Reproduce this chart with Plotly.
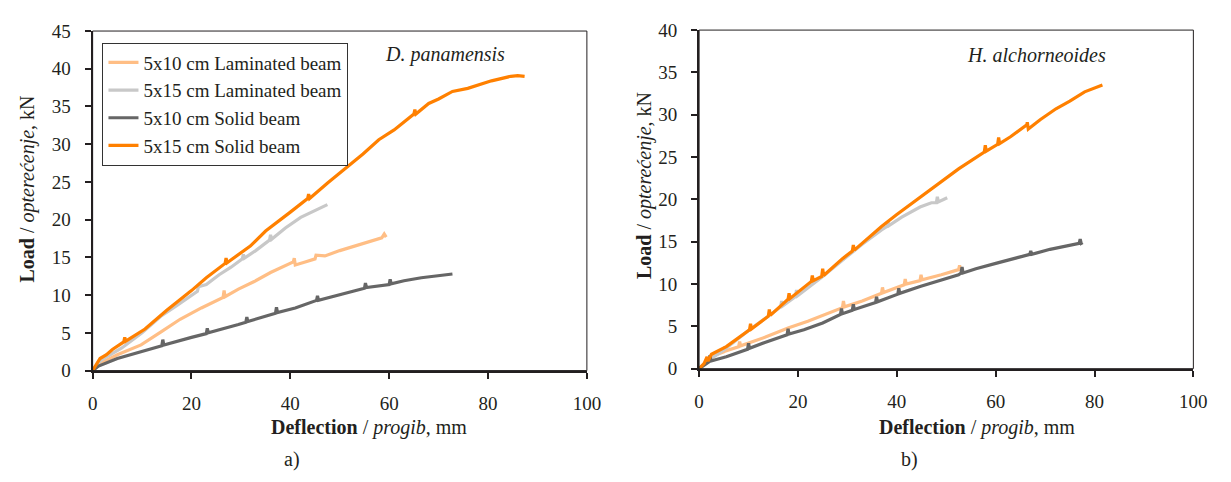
import plotly.graph_objects as go

# ---------------- data: a) D. panamensis ----------------
a_lam10_x = [0, 2, 5, 9.8, 14, 17.7, 22, 26.4, 26.6, 26.8, 29.5, 32.7, 36, 40.6, 40.8, 41, 43, 45, 45.2, 47, 50, 53.1, 56, 58.5, 59, 59.4]
a_lam10_y = [0, 1.1, 2.1, 3.4, 5.2, 6.8, 8.3, 9.7, 10.6, 9.8, 10.8, 11.8, 13.0, 14.4, 14.9, 14.0, 14.4, 14.8, 15.3, 15.2, 15.9, 16.5, 17.1, 17.6, 18.1, 17.7]

a_lam15_x = [0, 1.6, 3, 5.9, 10, 13.8, 17, 20, 21.2, 21.4, 23, 25.6, 28, 30.3, 30.5, 30.7, 33, 35.8, 36, 36.2, 39, 42.1, 45, 47.5]
a_lam15_y = [0, 1.3, 1.9, 3.0, 5.0, 7.2, 8.6, 9.9, 10.5, 11.1, 11.4, 12.7, 13.7, 14.8, 15.4, 14.9, 15.9, 17.3, 18.0, 17.4, 18.9, 20.3, 21.2, 22.0]

a_sol10_x = [0, 1.2, 5, 9.8, 14, 14.2, 14.4, 20, 23, 23.2, 23.4, 29.5, 31, 31.2, 31.4, 37, 37.2, 37.4, 41, 45.3, 45.5, 45.7, 50, 53.1, 55, 55.2, 55.4, 60, 60.2, 60.4, 63, 66.5, 70, 72.8]
a_sol10_y = [0, 0.6, 1.6, 2.5, 3.3, 4.1, 3.4, 4.4, 4.9, 5.6, 5.0, 6.1, 6.4, 7.1, 6.5, 7.6, 8.4, 7.7, 8.3, 9.3, 9.9, 9.3, 10.0, 10.6, 10.9, 11.6, 11.0, 11.4, 12.1, 11.5, 11.9, 12.3, 12.6, 12.8]

a_sol15_x = [0, 0.5, 1.2, 1.5, 2.8, 4, 6.3, 6.5, 6.7, 10.6, 15, 20, 23, 26.8, 27, 27.2, 31.9, 35, 40, 43.5, 43.7, 43.9, 47.6, 51.6, 54.7, 57.9, 61, 65, 65.2, 65.4, 68, 70, 72.8, 75.9, 78, 80.7, 84.6, 86, 87.4]
a_sol15_y = [0, 0.5, 1.2, 1.6, 2.1, 2.8, 3.8, 4.4, 3.9, 5.5, 8.0, 10.6, 12.3, 14.2, 14.9, 14.3, 16.5, 18.5, 21.0, 22.8, 23.4, 22.8, 24.9, 27.0, 28.7, 30.6, 31.9, 34.0, 34.6, 34.0, 35.4, 36.0, 37.0, 37.4, 37.8, 38.4, 39.0, 39.1, 39.0]

# ---------------- data: b) H. alchorneoides ----------------
b_lam10_x = [0, 2.4, 5, 5.2, 5.4, 8, 8.2, 8.4, 13.3, 18, 22, 25.1, 29, 29.2, 29.4, 33, 36.9, 37.1, 37.3, 41.5, 41.7, 41.9, 44.7, 44.9, 45.1, 49, 52.5, 52.7, 52.9, 53.3]
b_lam10_y = [0, 1.4, 2.0, 2.6, 2.1, 2.6, 3.2, 2.7, 3.7, 4.8, 5.6, 6.3, 7.2, 8.0, 7.3, 8.0, 8.9, 9.6, 9.0, 9.9, 10.6, 10.0, 10.4, 11.1, 10.5, 11.1, 11.7, 12.2, 11.6, 11.9]

b_lam15_x = [0, 2, 5, 8, 10, 14, 16.5, 16.7, 16.9, 19.5, 19.7, 19.9, 22, 25, 29, 33, 36.9, 38, 38.2, 38.4, 41, 44.7, 47, 48, 48.2, 48.4, 50.2]
b_lam15_y = [0, 1.0, 2.2, 3.6, 4.5, 6.2, 7.3, 8.0, 7.4, 8.5, 9.3, 8.6, 9.5, 10.9, 12.8, 14.7, 16.4, 16.8, 17.4, 16.9, 17.9, 19.1, 19.6, 19.6, 20.3, 19.7, 20.2]

b_sol10_x = [0, 0.8, 2, 2.2, 2.4, 5.5, 9.8, 10, 10.2, 13.3, 17.8, 18, 18.2, 21.2, 25, 28.6, 28.8, 29, 31, 31.2, 31.4, 35.7, 35.9, 36.1, 40.2, 40.4, 40.6, 44.7, 48, 52.5, 53, 53.2, 53.4, 56, 60.4, 63, 66.9, 67.1, 67.3, 71, 74, 76.9, 77.1, 77.3, 77.6]
b_sol10_y = [0, 0.3, 0.8, 1.6, 0.9, 1.4, 2.3, 3.0, 2.4, 3.1, 4.0, 4.7, 4.1, 4.6, 5.4, 6.4, 7.1, 6.5, 6.9, 7.6, 7.0, 7.8, 8.5, 7.9, 8.8, 9.5, 8.9, 9.7, 10.3, 11.1, 11.3, 12.0, 11.3, 11.8, 12.5, 12.9, 13.5, 13.9, 13.5, 14.1, 14.5, 14.8, 15.3, 14.8, 14.9]

b_sol15_x = [0, 1, 1.6, 1.8, 2.5, 5.5, 10.2, 10.4, 10.6, 14, 14.2, 14.4, 18, 18.2, 18.4, 22.7, 22.9, 23.1, 24.8, 25, 25.2, 29, 31, 31.2, 31.4, 36.9, 40, 44.7, 48, 52.5, 57.7, 57.9, 58.1, 60.4, 60.6, 60.8, 63, 66.3, 66.4, 66.6, 69, 72.2, 75, 78, 81.6]
b_sol15_y = [0, 0.6, 1.4, 0.9, 1.7, 2.6, 4.6, 5.3, 4.7, 6.2, 7.0, 6.3, 8.2, 8.9, 8.3, 10.3, 11.0, 10.4, 10.9, 11.8, 11.0, 13.0, 13.9, 14.6, 14.0, 16.8, 18.2, 20.2, 21.7, 23.6, 25.6, 26.4, 25.7, 26.5, 27.3, 26.6, 27.4, 28.8, 29.1, 28.3, 29.4, 30.7, 31.6, 32.7, 33.5]

series_names = ["5x10 cm Laminated beam", "5x15 cm Laminated beam", "5x10 cm Solid beam", "5x15 cm Solid beam"]
series_colors = ["#FFBE85", "#C8C8C8", "#666666", "#FF8000"]

x_ticks = [0, 20, 40, 60, 80, 100]
ya_ticks = [0, 5, 10, 15, 20, 25, 30, 35, 40, 45]
yb_ticks = [0, 5, 10, 15, 20, 25, 30, 35, 40]

FONT = "Liberation Serif"
AX = "#231f20"

fig = go.Figure()

a_data = [(a_lam10_x, a_lam10_y), (a_lam15_x, a_lam15_y), (a_sol10_x, a_sol10_y), (a_sol15_x, a_sol15_y)]
b_data = [(b_lam10_x, b_lam10_y), (b_lam15_x, b_lam15_y), (b_sol10_x, b_sol10_y), (b_sol15_x, b_sol15_y)]

for (xs, ys), name, col in zip(a_data, series_names, series_colors):
    fig.add_trace(go.Scatter(x=xs, y=ys, mode="lines", name=name,
                             line=dict(color=col, width=3.2), xaxis="x", yaxis="y"))
for (xs, ys), name, col in zip(b_data, series_names, series_colors):
    fig.add_trace(go.Scatter(x=xs, y=ys, mode="lines", name=name, showlegend=False,
                             line=dict(color=col, width=3.2), xaxis="x2", yaxis="y2"))

W, H = 1231, 482

def xax(dom, anchor):
    return dict(domain=dom, anchor=anchor, range=[0, 100], tickvals=x_ticks,
                showline=True, linecolor=AX, linewidth=2, ticks="outside", ticklen=6,
                tickwidth=1.5, tickcolor=AX, showgrid=False, zeroline=False,
                ticklabelstandoff=9, tickfont=dict(family=FONT, size=19, color="#231f20"))

def yax(dom, anchor, rng, tv):
    return dict(domain=dom, anchor=anchor, range=rng, tickvals=tv,
                showline=True, linecolor=AX, linewidth=2, ticks="outside", ticklen=6,
                tickwidth=1.5, tickcolor=AX, showgrid=False, zeroline=False,
                ticklabelstandoff=10, tickfont=dict(family=FONT, size=19, color="#231f20"))

fig.update_layout(
    width=W, height=H,
    margin=dict(l=0, r=0, t=0, b=0),
    paper_bgcolor="white", plot_bgcolor="white",
    xaxis=xax([89 / W, 591 / W], "y"),
    yaxis=yax([1 - 377 / H, 1 - 22 / H], "x", [0, 45], ya_ticks),
    xaxis2=xax([705 / W, 1207 / W], "y2"),
    yaxis2=yax([1 - 375 / H, 1 - 21 / H], "x2", [0, 40], yb_ticks),
    legend=dict(x=99 / W, y=1 - 34 / H, xanchor="left", yanchor="top",
                bgcolor="white", bordercolor="#333333", borderwidth=1,
                itemwidth=30, tracegroupgap=0,
                font=dict(family=FONT, size=19, color="#231f20")),
    showlegend=True,
)

# frame around the plot areas
for xr, yr in [("x domain", "y domain"), ("x2 domain", "y2 domain")]:
    fig.add_shape(type="rect", xref=xr, yref=yr, x0=0, x1=1, y0=0, y1=1,
                  line=dict(color=AX, width=1), layer="above")

tfont = dict(family=FONT, size=20, color="#231f20")
ann = [
    dict(text="<i>D. panamensis</i>", x=447 / W, y=1 - 47 / H),
    dict(text="<i>H. alchorneoides</i>", x=1048 / W, y=1 - 47 / H),
    dict(text="<b>Deflection</b> / <i>progib</i>, mm", x=370 / W, y=1 - 437 / H),
    dict(text="<b>Deflection</b> / <i>progib</i>, mm", x=987 / W, y=1 - 437 / H),
    dict(text="<b>Load</b> / <i>opterećenje</i>, kN", x=23 / W, y=1 - 187 / H, textangle=-90),
    dict(text="<b>Load</b> / <i>opterećenje</i>, kN", x=649 / W, y=1 - 183 / H, textangle=-90),
    dict(text="a)", x=292 / W, y=1 - 470 / H),
    dict(text="b)", x=919 / W, y=1 - 470 / H),
]
for a in ann:
    fig.add_annotation(xref="paper", yref="paper", showarrow=False,
                       xanchor="center", yanchor="middle", font=tfont, **a)

fig.write_html("out.html", config={"displayModeBar": False},
               post_script="document.body.style.margin='0';document.body.style.overflow='hidden';")
